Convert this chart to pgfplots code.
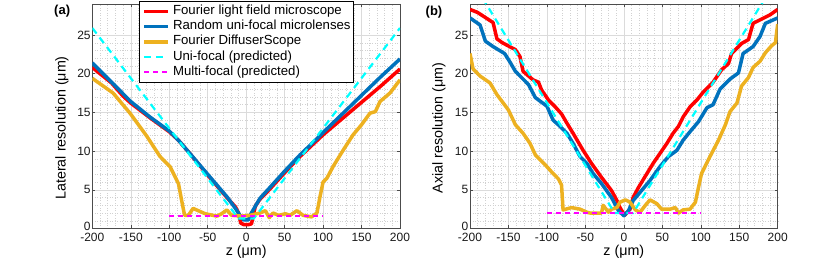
\documentclass[border=0pt]{standalone}
\usepackage{fontspec}
\setmainfont{Liberation Sans}
\usepackage{pgfplots}
\pgfplotsset{compat=1.18}
\definecolor{mred}{rgb}{1,0,0}
\definecolor{mblue}{rgb}{0,0.447,0.741}
\definecolor{myellow}{rgb}{0.929,0.694,0.125}
\definecolor{mcyan}{rgb}{0,1,1}
\definecolor{mmag}{rgb}{1,0,1}
\pgfplotsset{
  myaxis/.style={
    scale only axis, width=307.7pt, height=224.5pt,
    xmin=-200, xmax=200, ymin=0, ymax=29,
    xtick={-200,-150,...,200}, ytick={0,5,...,25},
    yticklabels={{\raisebox{4pt}{0}},5,10,15,20,25},
    minor x tick num=4, minor y tick num=4,
    grid=both,
    major grid style={color=black!14, line width=0.5pt},
    minor grid style={color=black!18, line width=0.4pt, dash pattern=on 0.7pt off 1.8pt},
    tick align=inside, major tick length=3pt, minor tick length=0pt,
    axis line style={black!70, line width=0.5pt},
    every tick/.style={black!70, line width=0.5pt},
    /pgf/number format/assume math mode=true,
    tick label style={font=\fontsize{12}{14}\selectfont, text=black!90},
    yticklabel style={inner xsep=1.5pt},
    xticklabel style={yshift=-0.8pt},
    label style={font=\fontsize{14.3}{17}\selectfont},
    xlabel style={at={(axis description cs:0.5,-0.103)}, anchor=center},
    clip mode=individual,
    scaled ticks=false,
    legend image code/.code={\draw[##1] (0pt,0pt) -- (24pt,0pt); \path (27pt,0pt);},
  },
  pred/.style={line width=3.5pt, mred, line join=round},
  pblue/.style={line width=3.5pt, mblue, line join=round},
  pyel/.style={line width=3.5pt, myellow, line join=round},
  pcyan/.style={line width=2.2pt, mcyan, dash pattern=on 7pt off 5pt},
  pmag/.style={line width=2pt, mmag, dash pattern=on 5pt off 4pt},
}
\begin{document}
\begin{tikzpicture}
\useasboundingbox (0pt,0pt) rectangle (830pt,267pt);
\begin{axis}[myaxis, at={(92.3pt,38.5pt)}, anchor=south west,
  xlabel={z (μm)}, ylabel={Lateral resolution (μm)},
  ylabel style={at={(axis description cs:-0.0985,0.448)}, anchor=center},
  legend cell align=left,
  legend style={at={(rel axis cs:0.1527,1.0134)}, anchor=north west, draw=black, line width=0.6pt, fill=white,
    inner xsep=3pt, inner ysep=2.5pt, font=\fontsize{13.2}{15}\selectfont, row sep=0pt,
    nodes={inner sep=0pt, text height=10.5pt, text depth=4.75pt}},
]
\addplot[pred] coordinates {(-200,20.8) (-190,20.0) (-175,18.8) (-160,17.1) (-150,16.2) (-125,14.3) (-100,12.5) (-88,11.4) (-75,9.9) (-50,6.9) (-25,4.0) (-14,2.8) (-10,2.0) (-7,0.7) (-3,0.5) (3,0.5) (7,0.6) (9,1.6) (12,2.9) (18,3.8) (30,5.0) (50,7.2) (70,9.3) (100,12.1) (125,14.2) (150,16.3) (175,18.4) (200,20.6)};
\addlegendentry{Fourier light field microscope}
\addplot[pblue] coordinates {(-200,21.4) (-175,18.9) (-150,16.4) (-125,14.4) (-100,12.6) (-88,11.4) (-75,9.9) (-50,7.0) (-25,4.1) (-14,2.6) (-8,1.7) (-3,1.1) (3,1.1) (5,1.7) (18,3.9) (30,5.2) (50,7.4) (70,9.5) (92,11.6) (100,12.4) (125,14.8) (150,17.2) (175,19.6) (200,21.9)};
\addlegendentry{Random uni-focal microlenses}
\addplot[pyel] coordinates {(-200,19.4) (-173,17.5) (-151,14.9) (-129,11.9) (-112,9.3) (-99,8.0) (-88,5.8) (-84,3.7) (-80,1.7) (-75,1.7) (-69,2.6) (-60,2.2) (-53,1.9) (-38,1.6) (-32,1.9) (-25,2.4) (-19,1.7) (-6,1.6) (5,1.7) (18,2.0) (25,2.3) (30,1.4) (35,2.0) (42,1.7) (51,1.9) (57,1.7) (66,2.3) (74,1.7) (85,1.5) (92,2.0) (96,4.1) (100,6.0) (105,6.5) (113,8.0) (126,10.1) (139,12.1) (150,13.4) (161,14.9) (168,15.1) (174,16.4) (187,17.5) (200,19.2)};
\addlegendentry{Fourier DiffuserScope}
\addplot[pcyan] coordinates {(-200,25.9) (-10,1.3) (10,1.3) (200,25.9)};
\addlegendentry{Uni-focal (predicted)}
\addplot[pmag] coordinates {(-100,1.6) (100,1.6)};
\addlegendentry{Multi-focal (predicted)}
\node[font=\bfseries\fontsize{13}{15}\selectfont] at (rel axis cs:-0.098,0.966) {(a)};
\end{axis}
\begin{axis}[myaxis, at={(470pt,38.5pt)}, anchor=south west,
  xlabel={z (μm)}, ylabel={Axial resolution (μm)},
  ylabel style={at={(axis description cs:-0.1007,0.448)}, anchor=center},
]
\addplot[pred] coordinates {(-200,28.3) (-190,27.9) (-170,26.6) (-165,24.5) (-158,24.0) (-141,23.1) (-135,22.2) (-131,20.3) (-118,19.2) (-111,18.9) (-107,17.9) (-98,16.6) (-90,15.8) (-81,14.8) (-74,13.6) (-66,12.3) (-53,10.1) (-42,8.4) (-29,6.6) (-16,4.9) (-9,3.6) (-5,2.7) (1,1.7) (8,2.5) (12,4.0) (19,5.3) (30,7.1) (38,8.4) (47,9.7) (56,11.0) (64,12.3) (71,13.2) (77,14.4) (86,15.7) (95,16.6) (103,17.6) (116,18.9) (127,20.5) (136,21.3) (140,22.6) (153,23.9) (162,24.4) (168,26.5) (190,27.6) (200,28.3)};
\addplot[pblue] coordinates {(-200,27.2) (-187,26.3) (-180,24.2) (-170,23.5) (-155,22.6) (-148,21.5) (-141,20.3) (-131,19.3) (-124,18.6) (-115,16.9) (-100,15.8) (-92,14.0) (-83,13.2) (-74,12.3) (-66,11.0) (-57,9.3) (-48,8.4) (-40,7.1) (-29,5.8) (-16,4.0) (-7,2.3) (0,1.65) (6,2.3) (12,3.6) (23,4.9) (34,6.2) (47,8.0) (58,9.3) (69,10.1) (77,11.4) (86,12.5) (97,13.8) (108,15.6) (116,16.0) (125,18.0) (138,19.3) (149,20.1) (155,22.6) (168,23.5) (177,24.8) (184,26.5) (200,27.2)};
\addplot[pyel] coordinates {(-200,22.6) (-196,20.6) (-187,19.7) (-174,18.8) (-165,17.3) (-150,15.3) (-141,13.4) (-131,12.3) (-122,11.0) (-115,9.5) (-102,8.2) (-92,7.1) (-85,6.4) (-81,5.6) (-79,2.4) (-68,2.7) (-57,2.5) (-48,2.1) (-44,2.0) (-29,2.0) (-27,3.0) (-20,2.1) (-16,2.5) (-9,2.7) (-5,3.4) (2,3.7) (8,3.4) (15,2.4) (21,2.1) (28,3.0) (34,3.7) (43,3.2) (49,2.5) (60,2.5) (67,2.7) (71,2.0) (77,2.4) (86,2.5) (93,3.4) (97,5.3) (101,7.1) (112,9.3) (123,11.4) (132,13.4) (138,15.1) (147,16.2) (153,18.4) (162,19.5) (168,20.8) (177,21.6) (184,22.7) (192,23.6) (197,24.0) (200,26.4)};
\addplot[pcyan] coordinates {(-200,32.4) (-12,2.0) (12,2.0) (200,32.4)};
\addplot[pmag] coordinates {(-100,2.0) (100,2.0)};
\node[font=\bfseries\fontsize{13}{15}\selectfont] at (rel axis cs:-0.117,0.962) {(b)};
\end{axis}
\end{tikzpicture}
\end{document}
